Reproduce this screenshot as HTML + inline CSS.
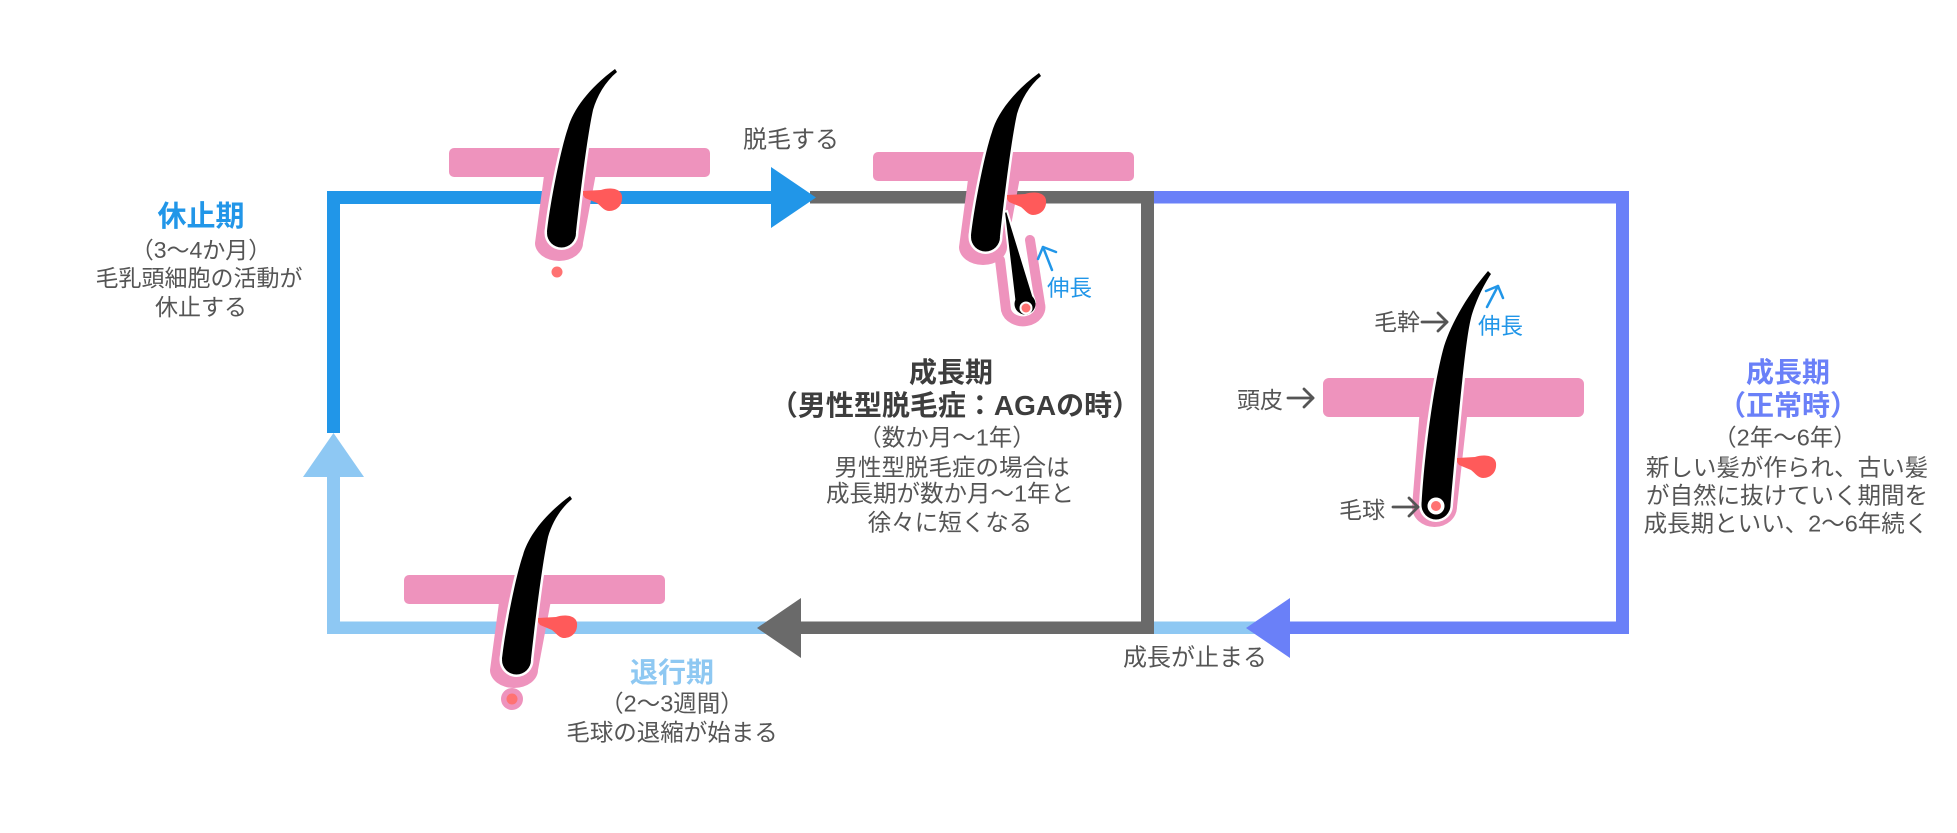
<!DOCTYPE html>
<html><head><meta charset="utf-8">
<style>
html,body{margin:0;padding:0;background:#fff;}
svg{display:block}
</style></head>
<body>
<svg width="1957" height="833" viewBox="0 0 1957 833" xmlns="http://www.w3.org/2000/svg" font-family="'Liberation Sans','Noto Sans CJK JP',sans-serif">
<defs>
  <path id="hair" d="M98 84 C101 55,112 0,119 -20 C124 -38,140 -60,166 -79 L168 -76 C156 -66,148 -52,144 -38 C139 -15,133 30,127 84 Z"/>
  <path id="gland" d="M134 43 L152 42 C160 39,172 40,173 48 C174 57,168 63,160 63 C155 63,152 58,148 55 L136 50 L134 47 Z"/>
  <path id="hair3" d="M98.5 127 C101 80,110 10,120 -28 C126 -50,142 -80,165 -107 L168 -104 C160 -92,152 -75,148 -60 C143 -40,137 20,127.5 127 Z"/>
</defs>

<!-- periwinkle loop -->
<rect x="1154" y="191" width="475" height="12.5" fill="#6a80f8"/>
<rect x="1616" y="191" width="13" height="443" fill="#6a80f8"/>
<rect x="1290" y="621.5" width="339" height="12.5" fill="#6a80f8"/>
<rect x="1150" y="621.5" width="110" height="12.5" fill="#8ec8f3"/>
<polygon points="1290,598 1246,628 1290,658" fill="#6a80f8"/>

<!-- light blue -->
<rect x="327" y="621.5" width="440" height="12.5" fill="#8ec8f3"/>
<rect x="327" y="470" width="13" height="164" fill="#8ec8f3"/>
<polygon points="303,477 333.5,433 364,477" fill="#8ec8f3"/>

<!-- gray -->
<rect x="810" y="191" width="344" height="12.5" fill="#6a6a6a"/>
<rect x="1141" y="191" width="13" height="443" fill="#6a6a6a"/>
<rect x="795" y="621.5" width="359" height="12.5" fill="#6a6a6a"/>
<polygon points="801,598 757,628 801,658" fill="#6a6a6a"/>

<!-- blue -->
<rect x="327" y="191" width="450" height="13" fill="#2196e8"/>
<rect x="327" y="191" width="13" height="242" fill="#2196e8"/>
<polygon points="771,167 816,197.5 771,228" fill="#2196e8"/>

<!-- Graphic 1: 休止期 -->
<g transform="translate(449,148)">
  <rect x="0" y="0" width="261" height="29" rx="5" fill="#ee93bd"/>
  <path d="M96 20 L86 95 A24 18 0 0 0 134 95 L148 20 Z" fill="#ee93bd"/>
  <use href="#hair" fill="#fff" stroke="#fff" stroke-width="5" stroke-linejoin="round"/>
  <circle cx="112.5" cy="85" r="14.5" fill="#fff" stroke="#fff" stroke-width="5"/>
  <use href="#hair" fill="#000"/>
  <circle cx="112.5" cy="85" r="14.5" fill="#000"/>
  <use href="#gland" fill="#ff5a5a"/>
  <circle cx="108" cy="124" r="5.5" fill="#ff7272"/>
</g>

<!-- Graphic 4: 退行期 -->
<g transform="translate(404,575)">
  <rect x="0" y="0" width="261" height="29" rx="5" fill="#ee93bd"/>
  <path d="M96 20 L86 95 A24 18 0 0 0 134 95 L148 20 Z" fill="#ee93bd"/>
  <use href="#hair" fill="#fff" stroke="#fff" stroke-width="5" stroke-linejoin="round"/>
  <circle cx="112.5" cy="85" r="14.5" fill="#fff" stroke="#fff" stroke-width="5"/>
  <use href="#hair" fill="#000"/>
  <circle cx="112.5" cy="85" r="14.5" fill="#000"/>
  <use href="#gland" fill="#ff5a5a"/>
  <circle cx="108" cy="124" r="11" fill="#ee93bd"/>
  <circle cx="108" cy="124" r="5.5" fill="#ff7272"/>
</g>

<!-- Graphic 2: 成長期 AGA -->
<g transform="translate(873,152)">
  <rect x="0" y="0" width="261" height="29" rx="5" fill="#ee93bd"/>
  <path d="M96 20 L86 95 A24 18 0 0 0 134 95 L148 20 Z" fill="#ee93bd"/>
  <path d="M157 88 L167 152 A17 14 0 0 1 133 158 L127 108" fill="#fff" stroke="#ee93bd" stroke-width="10" stroke-linecap="round" stroke-linejoin="round"/>
  <use href="#hair" fill="#fff" stroke="#fff" stroke-width="5" stroke-linejoin="round"/>
  <circle cx="112.5" cy="85" r="14.5" fill="#fff" stroke="#fff" stroke-width="5"/>
  <use href="#hair" fill="#000"/>
  <circle cx="112.5" cy="85" r="14.5" fill="#000"/>
  <path d="M131 60 L134 59 L162 150 L142 153 Z" fill="#000" stroke="#fff" stroke-width="2"/>
  <circle cx="152" cy="152" r="10.5" fill="#000"/>
  <circle cx="153" cy="156" r="6.5" fill="#fff"/>
  <circle cx="153" cy="156" r="4.5" fill="#ff7272"/>
  <use href="#gland" fill="#ff5a5a"/>
</g>
<!-- 伸長 (graphic 2) -->
<g stroke="#2196e8" stroke-width="2.5" fill="none" stroke-linecap="round" stroke-linejoin="round">
  <line x1="1052" y1="270" x2="1043" y2="247"/>
  <polyline points="1038,259 1043,247 1056,252"/>
</g>
<text x="1047" y="296" font-size="22.5" fill="#2196e8">伸長</text>

<!-- Graphic 3: 成長期 正常 -->
<g transform="translate(1323,378)">
  <rect x="0" y="0" width="261" height="39" rx="6" fill="#ee93bd"/>
  <path d="M97 30 L89 129 A22.5 20 0 0 0 134 129 L145 30 Z" fill="#ee93bd"/>
  <use href="#hair3" fill="#fff" stroke="#fff" stroke-width="5" stroke-linejoin="round"/>
  <circle cx="113" cy="127" r="14.5" fill="#fff" stroke="#fff" stroke-width="5"/>
  <use href="#hair3" fill="#000"/>
  <circle cx="113" cy="127" r="14.5" fill="#000"/>
  <circle cx="113" cy="128" r="8.5" fill="#fff"/>
  <circle cx="113" cy="128" r="5" fill="#ff7272"/>
  <use href="#gland" fill="#ff5a5a" transform="translate(0,37)"/>
</g>
<!-- labels graphic 3 -->
<g stroke="#555" stroke-width="2.8" fill="none" stroke-linecap="round" stroke-linejoin="round">
  <line x1="1422" y1="322" x2="1447" y2="322"/>
  <polyline points="1438,313 1447,322 1438,331"/>
  <line x1="1288" y1="398" x2="1313" y2="398"/>
  <polyline points="1304,389 1313,398 1304,407"/>
  <line x1="1393" y1="507" x2="1418" y2="507"/>
  <polyline points="1409,498 1418,507 1409,516"/>
</g>
<g stroke="#2196e8" stroke-width="2.5" fill="none" stroke-linecap="round" stroke-linejoin="round">
  <line x1="1487" y1="307" x2="1498" y2="286"/>
  <polyline points="1486,291 1498,286 1503,298"/>
</g>
<g font-size="23" fill="#555" text-anchor="end">
  <text x="1420" y="330">毛幹</text>
  <text x="1283" y="408">頭皮</text>
  <text x="1385" y="518">毛球</text>
</g>
<text x="1478" y="334" font-size="22.5" fill="#2196e8">伸長</text>

<!-- text blocks -->
<g text-anchor="middle" fill="#555">
  <text x="201" y="226" font-size="29" font-weight="bold" fill="#2196e8">休止期</text>
  <text x="201" y="258" font-size="23">（3〜4か月）</text>
  <text x="199" y="286" font-size="23">毛乳頭細胞の活動が</text>
  <text x="201" y="315" font-size="23">休止する</text>

  <text x="951" y="382" font-size="28" font-weight="bold" fill="#3d3d3d">成長期</text>
  <text x="955" y="415" font-size="28" font-weight="bold" fill="#3d3d3d">（男性型脱毛症：AGAの時）</text>
  <text x="947" y="445.5" font-size="23.5">（数か月〜1年）</text>
  <text x="952" y="475.5" font-size="23.5">男性型脱毛症の場合は</text>
  <text x="950" y="501.5" font-size="23.5">成長期が数か月〜1年と</text>
  <text x="950" y="530.5" font-size="23.5">徐々に短くなる</text>

  <text x="1788" y="382" font-size="28" font-weight="bold" fill="#6a80f8">成長期</text>
  <text x="1788" y="415" font-size="28" font-weight="bold" fill="#6a80f8">（正常時）</text>
  <text x="1785" y="445.5" font-size="23.5">（2年〜6年）</text>
  <text x="1787" y="475.5" font-size="23.5">新しい髪が作られ、古い髪</text>
  <text x="1787" y="503.5" font-size="23.5">が自然に抜けていく期間を</text>
  <text x="1786" y="531.5" font-size="23.5">成長期といい、2〜6年続く</text>

  <text x="672" y="682" font-size="28" font-weight="bold" fill="#8ec8f2">退行期</text>
  <text x="672" y="711.5" font-size="23.5">（2〜3週間）</text>
  <text x="672" y="740.5" font-size="23.5">毛球の退縮が始まる</text>

  <text x="791" y="147.5" font-size="24">脱毛する</text>
  <text x="1195" y="665.5" font-size="24">成長が止まる</text>
</g>
</svg>
</body></html>
